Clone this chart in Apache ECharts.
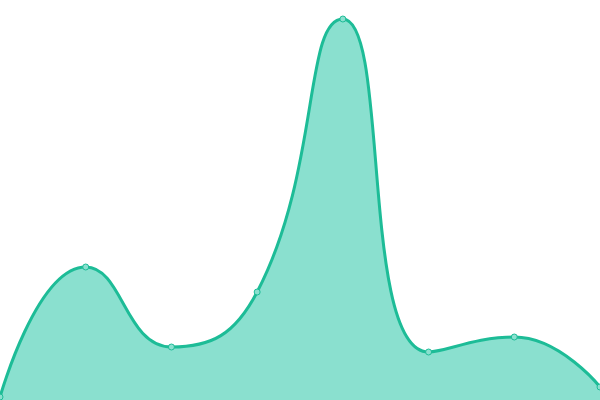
<!DOCTYPE html>
<html>
<head>
<meta charset="utf-8">
<style>html,body{margin:0;padding:0;background:#fff}#main{width:600px;height:400px}</style>
<script src="https://cdn.jsdelivr.net/npm/echarts@6/dist/echarts.min.js"></script>
</head>
<body>
<div id="main"></div>
<script>
var categories = ["A", "B", "C", "D", "E", "F", "G", "H"];
var values = [3, 133, 53, 108, 381, 48, 63, 13];

var chart = echarts.init(document.getElementById("main"));
var option = {
  animation: false,
  grid: { left: 0, right: 0, top: 0, bottom: 0 },
  xAxis: {
    type: "category",
    boundaryGap: false,
    data: categories,
    show: false
  },
  yAxis: {
    type: "value",
    min: 0,
    max: 400,
    show: false
  },
  series: [
    {
      type: "line",
      data: values,
      smooth: true,
      symbol: "circle",
      symbolSize: 6,
      itemStyle: { color: "#8ae0cf", borderColor: "#1dbc97", borderWidth: 1 },
      lineStyle: { color: "#1dbc97", width: 3 },
      areaStyle: { color: "#8ae0cf", opacity: 1 }
    }
  ]
};
chart.setOption(option);
</script>
</body>
</html>
